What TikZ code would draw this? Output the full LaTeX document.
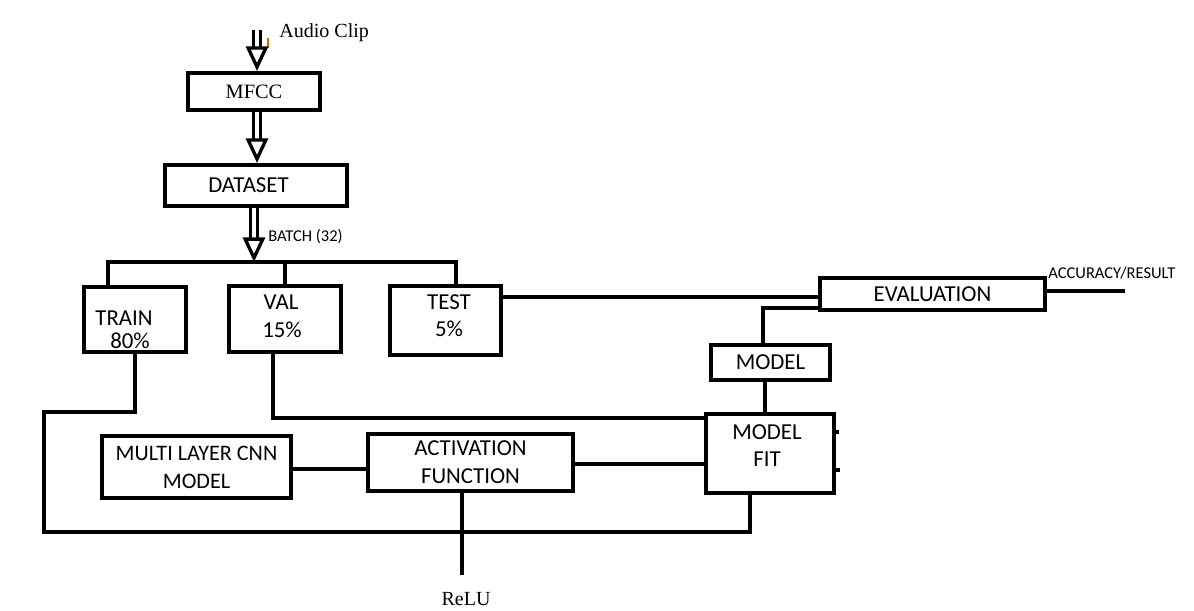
\documentclass[tikz,border=0pt]{standalone}
\usepackage{fontspec}
\setmainfont{Liberation Serif}
\newfontfamily\calib{Carlito}
\usetikzlibrary{arrows.meta}
\begin{document}
\begin{tikzpicture}[x=0.02cm,y=-0.02cm,
  box/.style={draw,line width=2.3pt,inner sep=0pt,font=\calib\fontsize{13}{16}\selectfont,align=center},
  lbl/.style={inner sep=0pt,font=\calib\fontsize{13}{16}\selectfont},
  small/.style={inner sep=0pt,font=\calib\fontsize{9.4}{11}\selectfont},
  serif/.style={inner sep=0pt,font=\fontsize{11.4}{14}\selectfont},
  wire/.style={line width=2.3pt},
  dbl/.style={double,double distance=2.2pt,line width=1.9pt,-{Triangle[open,fill=white,length=14pt,width=12.5pt,line width=1.9pt]}}]
\useasboundingbox (0,0) rectangle (1194,610);
% boxes
\node[box,minimum width=2.64cm,minimum height=0.74cm,font=\fontsize{11.6}{14}\selectfont] (mfcc) at (254,91.5) {MFCC};
\node[box,minimum width=3.64cm,minimum height=0.82cm] (dataset) at (256,185.5) {\hspace*{-0.3cm}DATASET};
\node[box,minimum width=2.04cm,minimum height=1.30cm] (train) at (135,319.5) {};
\node[box,minimum width=2.24cm,minimum height=1.32cm] (val) at (285,319) {};
\node[box,minimum width=2.22cm,minimum height=1.38cm] (test) at (445.5,320.5) {};
\node[box,minimum width=4.5cm,minimum height=0.64cm] (eval) at (932.5,294) {EVALUATION};
\node[box,minimum width=2.38cm,minimum height=0.70cm] (model) at (770.5,362.5) {MODEL};
\node[box,minimum width=2.56cm,minimum height=1.58cm] (fit) at (770,453.5) {};
\node[box,minimum width=3.78cm,minimum height=1.24cm,font=\calib\fontsize{12.6}{16}\selectfont] (cnn) at (196.5,467) {MULTI LAYER CNN\\MODEL};
\node[box,minimum width=4.1cm,minimum height=1.14cm] (act) at (470.5,462.5) {ACTIVATION\\FUNCTION};
% texts inside boxes
\node[lbl] (trainT) at (124,318) {TRAIN};
\node[lbl] (trainP) at (130,341) {80\%};
\node[lbl] (valT) at (281,302) {VAL};
\node[lbl] (valP) at (282,330) {15\%};
\node[lbl] (testT) at (449,302) {TEST};
\node[lbl] (testP) at (449,329) {5\%};
\node[lbl] (fitA) at (767,432) {MODEL};
\node[lbl] (fitB) at (767,459) {FIT};
% free labels
\node[serif,anchor=west] (audio) at (279,33) {Audio Clip};
\node[small,anchor=west] (batch) at (268,237) {BATCH (32)};
\node[small,anchor=west] (acc) at (1048,273) {ACCURACY/RESULT};
\node[serif] (relu) at (466,599) {ReLU};
% coordinates
\coordinate (audioin) at (257,30);
\coordinate (busL) at (108,262);
\coordinate (busR) at (456,262);
\coordinate (tl) at (44,412);
\coordinate (bl) at (44,532);
\coordinate (br) at (750,532);
\coordinate (v1) at (273,418);
\coordinate (te) at (503,297);
\coordinate (em) at (763,308);
\coordinate (mf) at (765,0);
\coordinate (reluend) at (462,575);
\coordinate (out) at (1125,291);
% orange cursor mark
\draw[orange!80!black,line width=0.6pt] (268,38) -- (268,48);
% arrows
\draw[dbl] (audioin) -- (audioin |- mfcc.north);
\draw[dbl] (mfcc.south -| 257,0) -- (dataset.north -| 257,0);
\draw[dbl] (dataset.south -| 254,0) -- (busL -| 254,0);
% bus
\draw[wire] (busL |- train.north) -- (busL) -- (busR) -- (busR |- test.north);
\draw[wire] (val.north |- busL) -- (val.north);
% train loop
\draw[wire] (train.south) |- (tl) -- (bl) -- (br) -- (br |- fit.south);
% val to fit
\draw[wire] (val.south -| v1) |- (fit.west |- v1);
% test to eval
\draw[wire] (test.east |- te) -- (eval.west |- te);
% eval to model
\draw[wire] (eval.west |- em) -- (em) -- (model.north -| em);
% model to fit
\draw[wire] (model.south -| mf) -- (fit.north -| mf);
% cnn - act - fit
\draw[wire] (cnn.east |- 0,469) -- (act.west |- 0,469);
\draw[wire] (act.east |- 0,464) -- (fit.west |- 0,464);
% act to relu
\draw[wire] (act.south -| reluend) -- (reluend);
% output
\draw[wire] (eval.east |- out) -- (out);
% stubs on fit
\draw[wire] (fit.east |- 0,432) -- ++(3,0);
\draw[wire] (fit.east |- 0,470) -- ++(4,0);
\end{tikzpicture}
\end{document}
